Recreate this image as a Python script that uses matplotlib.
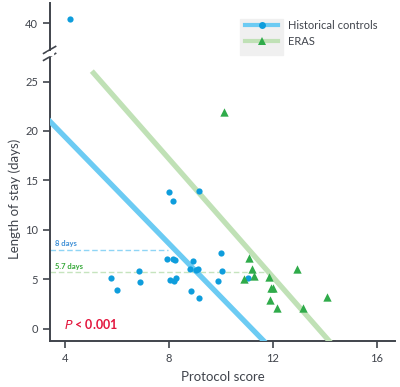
import matplotlib
matplotlib.use("Agg")
import matplotlib.pyplot as plt
import numpy as np
from matplotlib.lines import Line2D
from matplotlib.patches import Rectangle

plt.rcParams['font.family'] = ['Lato', 'DejaVu Sans']

# Historical controls
hist_x = [4.2, 8.0, 8.17, 9.17, 10.0, 7.91, 8.23, 8.15, 8.91, 8.81, 9.03, 9.13,
          6.85, 10.03, 5.78, 6.9, 8.04, 8.19, 8.26, 9.9, 5.99, 8.85, 9.14, 11.04]
hist_y = [40.4, 13.8, 12.9, 13.9, 7.7, 7.0, 6.9, 7.0, 6.8, 6.0, 5.9, 6.0,
          5.8, 5.8, 5.1, 4.7, 4.9, 4.8, 5.1, 4.8, 3.9, 3.8, 3.1, 5.15]

# ERAS
eras_x = [10.12, 11.09, 11.18, 10.88, 11.28, 11.86, 11.91, 12.01, 11.88, 12.15, 12.91, 13.17, 14.09]
eras_y = [21.9, 7.1, 6.0, 5.0, 5.3, 5.2, 4.1, 4.1, 2.9, 2.1, 6.0, 2.1, 3.2]

# regression fits (intercept, slope) and drawn x range
hist_fit = (30.2, -2.7)
hist_range = (3.0, 12.5)
eras_fit = (41.1, -2.99)
eras_range = (5.03, 15.0)

hist_median = 8
eras_median = 5.7

blue = "#0e9ddc"
blue_line = "#6ccbf3"
green = "#2fab4a"
green_line = "#c0e1b6"
dark = "#40444c"
red = "#e3173e"

fig = plt.figure(figsize=(4, 3.87), dpi=100)
ax = fig.add_axes([0.125, 0.119, 0.8625, 0.734])
ax_top = fig.add_axes([0.125, 0.871, 0.8625, 0.121])

xlim = (3.42, 16.7)

for a in (ax, ax_top):
    a.set_xlim(*xlim)
    a.spines['top'].set_visible(False)
    a.spines['right'].set_visible(False)
    a.spines['left'].set_color(dark)
    a.spines['left'].set_linewidth(1.4)
    a.spines['bottom'].set_color(dark)
    a.spines['bottom'].set_linewidth(1.4)
    a.tick_params(colors=dark, labelsize=8, width=1.2, length=5)

ax.set_ylim(-1.25, 27.5)
ax_top.set_ylim(37.3, 42.05)
ax_top.spines['bottom'].set_visible(False)
ax_top.set_xticks([])
ax_top.set_yticks([40])
ax.set_xticks([4, 8, 12, 16])
ax.set_yticks([0, 5, 10, 15, 20, 25])

# fit lines
xs = np.array(hist_range)
ax.plot(xs, hist_fit[0] + hist_fit[1] * xs, color=blue_line, lw=3.8, zorder=3,
        solid_capstyle='butt')
xs = np.array(eras_range)
ax.plot(xs, eras_fit[0] + eras_fit[1] * xs, color=green_line, lw=3.8, zorder=3,
        solid_capstyle='butt')

# median lines
x_hist_cross = (hist_median - hist_fit[0]) / hist_fit[1]
x_eras_cross = (eras_median - eras_fit[0]) / eras_fit[1]
ax.plot([xlim[0], x_hist_cross - 0.25], [hist_median, hist_median], color="#8fd5f5",
        lw=1, ls=(0, (4, 2)), zorder=2)
ax.plot([xlim[0], x_eras_cross], [eras_median, eras_median], color="#c6e4be",
        lw=1, ls=(0, (4, 2)), zorder=2)
ax.text(3.62, hist_median + 0.25, f"{hist_median} days", color="#3d8fd6", fontsize=5.5,
        fontweight='bold', va='bottom')
ax.text(3.62, eras_median + 0.25, f"{eras_median} days", color="#35a838", fontsize=5.5,
        fontweight='bold', va='bottom')

# points
for a in (ax, ax_top):
    a.scatter(hist_x, hist_y, s=20, color=blue, zorder=4, linewidths=0)
    a.scatter(eras_x, eras_y, s=36, marker='^', color=green, zorder=4, linewidths=0)

ax.text(3.97, 0.5, r"$\it{P}$ < 0.001", color=red, fontsize=9, fontweight='bold', va='center')

ax.set_xlabel("Protocol score", fontsize=9.5, color=dark, labelpad=5)
ax.set_ylabel("Length of stay (days)", fontsize=9.5, color=dark, labelpad=3)

# axis break marks
for dy in (0.0, 0.018):
    fig.add_artist(Line2D([0.109, 0.139], [0.853 + dy - 0.009, 0.853 + dy + 0.009],
                          color=dark, lw=1.2))
fig.add_artist(Rectangle((0.118, 0.853 + 0.004), 0.014, 0.009, color='white', zorder=5))

# legend
fig.patches.append(Rectangle((0.6, 0.858), 0.1075, 0.093, transform=fig.transFigure,
                             color="#f0f0f0", zorder=0))
handles = [
    Line2D([], [], color=blue_line, lw=3, marker='o', markersize=5,
           markerfacecolor=blue, markeredgewidth=0),
    Line2D([], [], color=green_line, lw=3, marker='^', markersize=6,
           markerfacecolor=green, markeredgewidth=0),
]
fig.legend(handles, ["Historical controls", "ERAS"], loc='upper left',
           bbox_to_anchor=(0.607, 0.955), frameon=False, fontsize=8, handlelength=3.0,
           handletextpad=0.9, borderpad=0.2, borderaxespad=0, labelspacing=0.45,
           labelcolor=dark, markerfirst=True, numpoints=1)

fig.savefig("out.png", dpi=100)
